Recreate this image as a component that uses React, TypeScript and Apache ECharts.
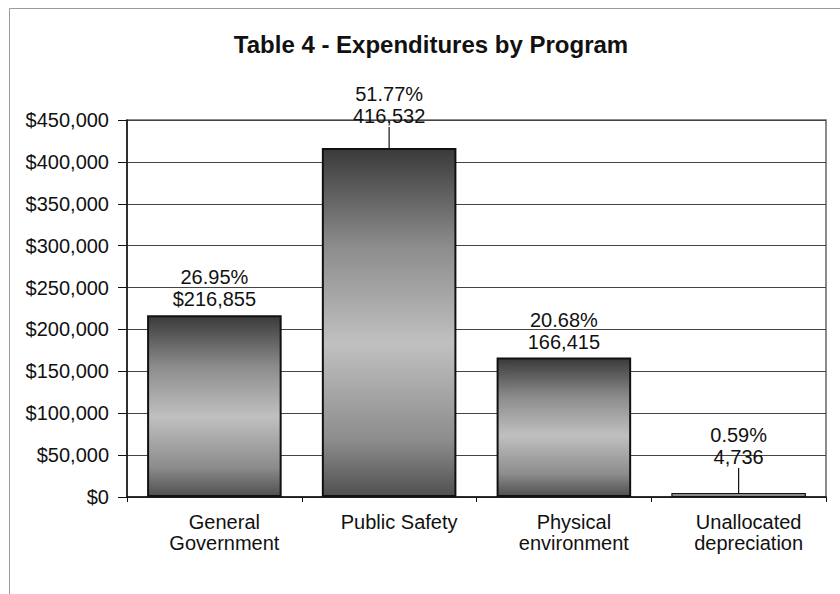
import React, { useEffect, useRef } from "react";
import * as echarts from "echarts";

const categories = ["General\nGovernment", "Public Safety", "Physical\nenvironment", "Unallocated\ndepreciation"];
const values = [216855, 416532, 166415, 4736];
const valuePrefixes = ["$", "", "", ""];
const yTicks = { min: 0, max: 450000, interval: 50000 };
const titleText = "Table 4 - Expenditures by Program";

const FONT = 'Arial, "Liberation Sans", sans-serif';
// label lift (px) for labels moved above with a leader line
const labelLift: Record<number, number> = { 1: -16, 3: -20 };

export default function App() {
  const ref = useRef<HTMLDivElement>(null);
  useEffect(() => {
    if (!ref.current) return;
    const chart = echarts.init(ref.current, undefined, { renderer: "svg" });
    const total = values.reduce((a, b) => a + b, 0);
    const barGradient = new echarts.graphic.LinearGradient(0, 0, 0, 1, [
      { offset: 0, color: "#3a3a3a" },
      { offset: 0.28, color: "#8c8c8c" },
      { offset: 0.56, color: "#c0c0c0" },
      { offset: 0.84, color: "#8c8c8c" },
      { offset: 1, color: "#505050" },
    ]);
    chart.setOption({
      animation: false,
      backgroundColor: "#ffffff",
      title: {
        text: titleText,
        left: 431,
        top: 32,
        padding: 0,
        textAlign: "center",
        textStyle: { fontFamily: FONT, fontSize: 24, fontWeight: "bold", color: "#111" },
      },
      graphic: [
        {
          type: "rect",
          shape: { x: 9.5, y: 8.5, width: 840, height: 600 },
          style: { fill: "none", stroke: "#9a9a9a", lineWidth: 1 },
          silent: true,
        },
      ],
      grid: {
        left: 127,
        right: 14,
        top: 120,
        bottom: 97,
        show: true,
        borderColor: "#666",
        borderWidth: 1.5,
      },
      xAxis: {
        type: "category",
        data: categories,
        axisLine: { lineStyle: { color: "#111", width: 1.5 } },
        axisTick: { show: true, length: 5, lineStyle: { color: "#111" } },
        axisLabel: {
          fontFamily: FONT,
          fontSize: 20,
          color: "#111",
          lineHeight: 21,
          margin: 14,
          padding: [0, 0, 0, 20],
          interval: 0,
        },
      },
      yAxis: {
        type: "value",
        min: yTicks.min,
        max: yTicks.max,
        interval: yTicks.interval,
        axisLine: { show: true, lineStyle: { color: "#111", width: 1.5 } },
        axisTick: { show: true, length: 9, lineStyle: { color: "#111" } },
        axisLabel: {
          fontFamily: FONT,
          fontSize: 20,
          color: "#111",
          margin: 18,
          formatter: (v: number) => "$" + v.toLocaleString("en-US"),
        },
        splitLine: { lineStyle: { color: "#444", width: 1 } },
      },
      series: [
        {
          type: "bar",
          barWidth: "77%",
          data: values.map((v, i) => ({
            value: v,
            itemStyle: i === 3 ? { borderWidth: 1.2 } : undefined,
            labelLine: { show: labelLift[i] !== undefined, lineStyle: { color: "#111", width: 1.2 } },
          })),
          itemStyle: {
            color: (p: any) => (p.dataIndex === 3 ? "#b4b4b4" : barGradient),
            borderColor: "#111",
            borderWidth: 2,
          },
          label: {
            show: true,
            position: "top",
            distance: 5,
            fontFamily: FONT,
            fontSize: 20,
            lineHeight: 22,
            color: "#111",
            align: "center",
            formatter: (p: any) =>
              ((values[p.dataIndex] / total) * 100).toFixed(2) +
              "%\n" +
              valuePrefixes[p.dataIndex] +
              values[p.dataIndex].toLocaleString("en-US"),
          },
          labelLayout: (p: any) => (labelLift[p.dataIndex] !== undefined ? { dy: labelLift[p.dataIndex] } : {}),
        },
      ],
    });
    return () => chart.dispose();
  }, []);
  return <div ref={ref} style={{ position: "absolute", left: 0, top: 0, width: 840, height: 594 }} />;
}
